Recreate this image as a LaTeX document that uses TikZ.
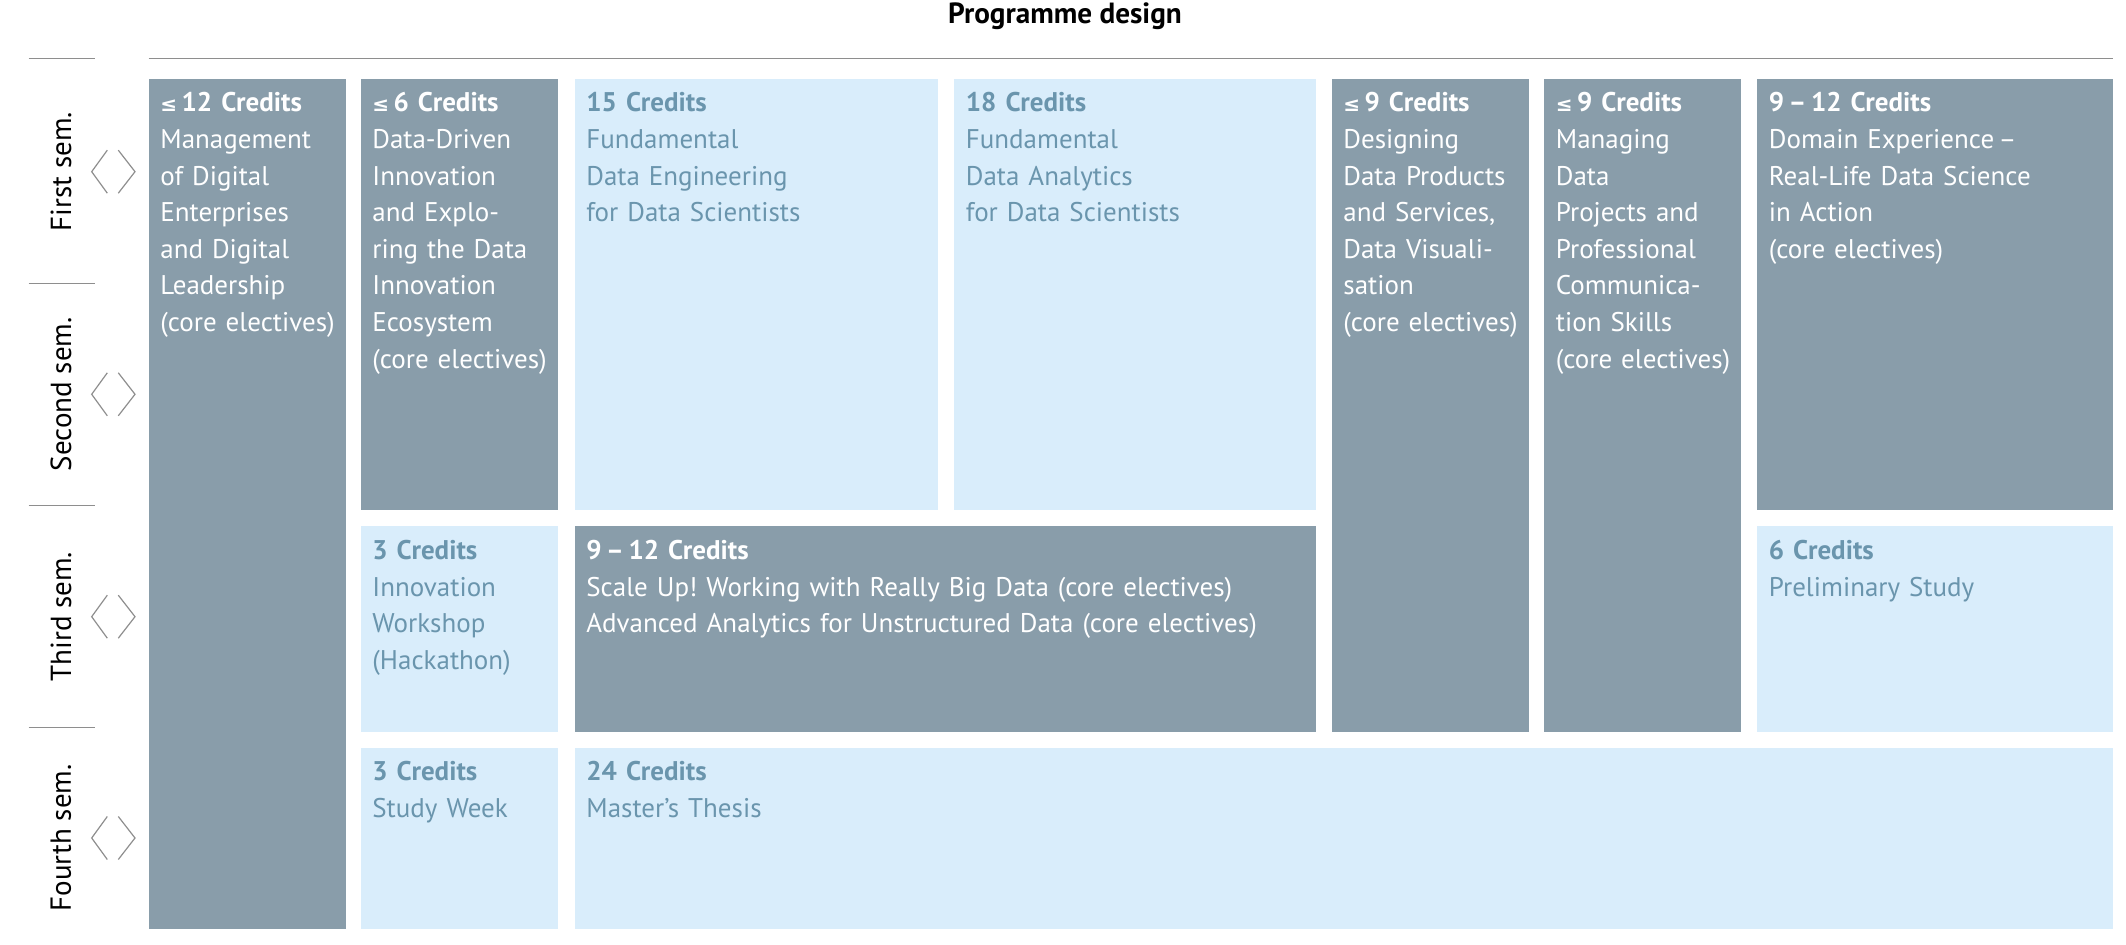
\documentclass[tikz,border=0pt]{standalone}
\usepackage{fontspec}
\setmainfont{PT Sans}
\newfontfamily\symfont{DejaVu Sans}
\usepackage{tikz}
\frenchspacing

\definecolor{darkmod}{HTML}{899DAA}
\definecolor{lightmod}{HTML}{D9EDFB}
\definecolor{lighttext}{HTML}{6A95AD}
\definecolor{rulegray}{HTML}{8E8E8E}

\newcommand{\lesym}{{\symfont\fontsize{10}{10}\selectfont ≤}\,}

\begin{document}
\begin{tikzpicture}[x=0.5pt,y=-0.5pt,
  ondark/.style={anchor=base west,inner sep=0,align=left,text=white,
    font=\fontsize{13.5}{18.3}\selectfont},
  onlight/.style={ondark,text=lighttext},
  semlabel/.style={rotate=90,inner sep=0,font=\fontsize{14.5}{17}\selectfont},
  rule/.style={rulegray,line width=0.75pt},
  chevron/.style={rulegray,line width=0.6pt}]
\useasboundingbox (0,0) rectangle (2126,945);

\node[anchor=base,inner sep=0,font=\bfseries\fontsize{14.6}{17}\selectfont] (title) at (1065,24) {Programme design};

% rules
\draw[rule] (148.5,58.3) -- (2113,58.3);
\draw[rule] (28.5,58.3) -- (95,58.3);
\draw[rule] (28.5,283.7) -- (95,283.7);
\draw[rule] (28.5,505.7) -- (95,505.7);
\draw[rule] (28.5,727.3) -- (95,727.3);

% semesters
\node[semlabel] (first) at (61,171.7) {First sem.};
\node[semlabel] (second) at (61,394.3) {Second sem.};
\node[semlabel] (third) at (61,616.7) {Third sem.};
\node[semlabel] (fourth) at (61,838) {Fourth sem.};

\draw[chevron] (107.3,150.2) -- (91.7,171.7) -- (107.3,193.2);
\draw[chevron] (118.3,150.2) -- (135,171.7) -- (118.3,193.2);
\draw[chevron] (107.3,372.8) -- (91.7,394.3) -- (107.3,415.8);
\draw[chevron] (118.3,372.8) -- (135,394.3) -- (118.3,415.8);
\draw[chevron] (107.3,595.2) -- (91.7,616.7) -- (107.3,638.2);
\draw[chevron] (118.3,595.2) -- (135,616.7) -- (118.3,638.2);
\draw[chevron] (107.3,816.5) -- (91.7,838) -- (107.3,859.5);
\draw[chevron] (118.3,816.5) -- (135,838) -- (118.3,859.5);

% modules
\fill[darkmod] (148.5,79) rectangle (345.5,929);
\node[ondark,text width=92pt] (mgmt) at (160,112) {\textbf{\lesym 12 Credits}\\Management\\of Digital\\Enterprises\\and Digital\\Leadership\\(core electives)};

\fill[darkmod] (360.5,79) rectangle (557.5,510.5);
\node[ondark,text width=92pt] (ddi) at (372,112) {\textbf{\lesym 6 Credits}\\Data-Driven\\Innovation\\and Explo-\\ring the Data\\Innovation\\Ecosystem\\(core electives)};

\fill[lightmod] (574.5,79) rectangle (938,510.5);
\node[onlight,text width=175pt] (fde) at (586,112) {\textbf{15 Credits}\\Fundamental\\Data Engineering\\for Data Scientists};

\fill[lightmod] (954,79) rectangle (1315.5,510.5);
\node[onlight,text width=175pt] (fda) at (965.5,112) {\textbf{18 Credits}\\Fundamental\\Data Analytics\\for Data Scientists};

\fill[darkmod] (1331.5,79) rectangle (1529,732.5);
\node[ondark,text width=92pt] (ddp) at (1343,112) {\textbf{\lesym 9 Credits}\\Designing\\Data Products\\and Services,\\Data Visuali-\\sation\\(core electives)};

\fill[darkmod] (1544,79) rectangle (1740.5,732.5);
\node[ondark,text width=92pt] (mdp) at (1555.5,112) {\textbf{\lesym 9 Credits}\\Managing\\Data\\Projects and\\Professional\\Communica-\\tion Skills\\(core electives)};

\fill[darkmod] (1757,79) rectangle (2113,510.5);
\node[ondark,text width=172pt] (domain) at (1768.5,112) {\textbf{9\,–\,12 Credits}\\Domain Experience\,–\\Real-Life Data Science\\in Action\\(core electives)};

\fill[lightmod] (360.5,526.5) rectangle (557.5,732.5);
\node[onlight,text width=92pt] (hack) at (372,559.5) {\textbf{3 Credits}\\Innovation\\Workshop\\(Hackathon)};

\fill[darkmod] (574.5,526.5) rectangle (1315.5,732.5);
\node[ondark,text width=364pt] (scale) at (586,559.5) {\textbf{9\,–\,12 Credits}\\Scale Up! Working with Really Big Data (core electives)\\Advanced Analytics for Unstructured Data (core electives)};

\fill[lightmod] (1757,526.5) rectangle (2113,732.5);
\node[onlight,text width=172pt] (prelim) at (1768.5,559.5) {\textbf{6 Credits}\\Preliminary Study};

\fill[lightmod] (360.5,748) rectangle (557.5,929);
\node[onlight,text width=92pt] (week) at (372,781) {\textbf{3 Credits}\\Study Week};

\fill[lightmod] (574.5,748) rectangle (2113,929);
\node[onlight,text width=364pt] (thesis) at (586,781) {\textbf{24 Credits}\\Master’s Thesis};
\end{tikzpicture}
\end{document}
